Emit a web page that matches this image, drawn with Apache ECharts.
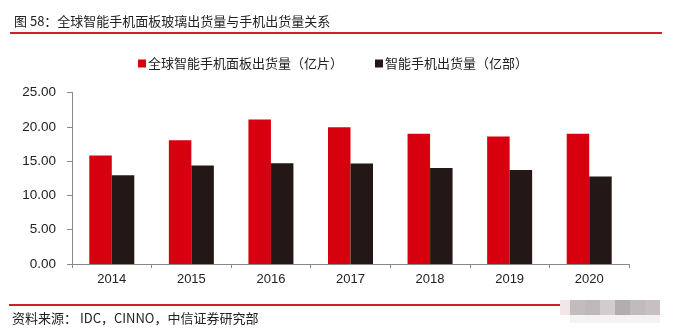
<!DOCTYPE html>
<html>
<head>
<meta charset="utf-8">
<script src="https://cdn.jsdelivr.net/npm/echarts@6/dist/echarts.min.js"></script>
<style>html,body{margin:0;padding:0;background:#fff;}#c{width:673px;height:329px;}</style>
</head>
<body>
<div id="c"></div>
<script>
var categories = ['2014', '2015', '2016', '2017', '2018', '2019', '2020'];
var glassShipments = [15.8, 18.05, 21.05, 19.95, 19.0, 18.6, 19.0];
var phoneShipments = [12.95, 14.35, 14.7, 14.65, 14.0, 13.7, 12.75];
var yTicks = [0, 5, 10, 15, 20, 25];
var seriesNames = ['全球智能手机面板出货量（亿片）', '智能手机出货量（亿部）'];
var titleText = '图 58：全球智能手机面板玻璃出货量与手机出货量关系';
var sourceText = '资料来源： IDC，CINNO，中信证券研究部';

var font = '"Liberation Sans", Arial, "Noto Sans CJK SC", sans-serif';
var cjk = '"Noto Sans CJK SC", "Liberation Sans", sans-serif';
var chart = echarts.init(document.getElementById('c'));
chart.setOption({
  animation: false,
  backgroundColor: '#fff',
  title: {
    text: titleText, left: 9, top: 10,
    textStyle: { fontSize: 13, fontWeight: 'normal', color: '#222', fontFamily: cjk }
  },
  legend: {
    data: seriesNames, top: 52, left: 133, itemWidth: 8, itemHeight: 8, itemGap: 32,
    icon: 'rect',
    textStyle: { fontSize: 13, color: '#222', fontFamily: cjk, padding: [0, 0, 0, -3] }
  },
  grid: { left: 72, right: 44, top: 92.5, bottom: 65 },
  xAxis: {
    type: 'category', data: categories,
    axisLine: { lineStyle: { color: '#888', width: 1 } },
    axisTick: { show: true, alignWithLabel: false, length: 4, lineStyle: { color: '#888' } },
    axisLabel: { fontSize: 13, color: '#222', fontFamily: font, margin: 9 }
  },
  yAxis: {
    type: 'value', min: yTicks[0], max: yTicks[yTicks.length - 1], interval: 5,
    axisLine: { show: true, lineStyle: { color: '#888', width: 1 } },
    axisTick: { show: true, length: 5, lineStyle: { color: '#888' } },
    splitLine: { show: false },
    axisLabel: { fontSize: 13.5, color: '#222', fontFamily: font, margin: 16,
      formatter: function (v) { return v.toFixed(2); } }
  },
  series: [
    { name: seriesNames[0], type: 'bar', data: glassShipments, barWidth: 22.5, barGap: '0%',
      itemStyle: { color: '#D7000F' } },
    { name: seriesNames[1], type: 'bar', data: phoneShipments, barWidth: 22.5, barGap: '0%',
      itemStyle: { color: '#231815' } }
  ],
  graphic: [
    { type: 'rect', shape: { x: 10, y: 32, width: 652, height: 2 }, style: { fill: '#CC2229' } },
    { type: 'rect', shape: { x: 9, y: 304, width: 551, height: 2 }, style: { fill: '#CC2229' } },
    { type: 'text', left: 12, top: 312, style: { text: sourceText, fontSize: 13, fill: '#222', fontFamily: cjk } },
    { type: 'rect', shape: { x: 560, y: 300, width: 10, height: 15 }, style: { fill: '#f3e6e6' } },
    { type: 'rect', shape: { x: 570, y: 300, width: 15, height: 15 }, style: { fill: '#c4bcbc' } },
    { type: 'rect', shape: { x: 585, y: 300, width: 15, height: 15 }, style: { fill: '#bdb9b8' } },
    { type: 'rect', shape: { x: 600, y: 300, width: 15, height: 15 }, style: { fill: '#d4cccc' } },
    { type: 'rect', shape: { x: 615, y: 300, width: 15, height: 15 }, style: { fill: '#b3aeae' } },
    { type: 'rect', shape: { x: 630, y: 300, width: 15, height: 15 }, style: { fill: '#c0bcbc' } },
    { type: 'rect', shape: { x: 645, y: 300, width: 15, height: 15 }, style: { fill: '#c8c0c0' } },
    { type: 'rect', shape: { x: 570, y: 315, width: 90, height: 8 }, style: { fill: '#f4f2f2' } }
  ]
});
</script>
</body>
</html>
